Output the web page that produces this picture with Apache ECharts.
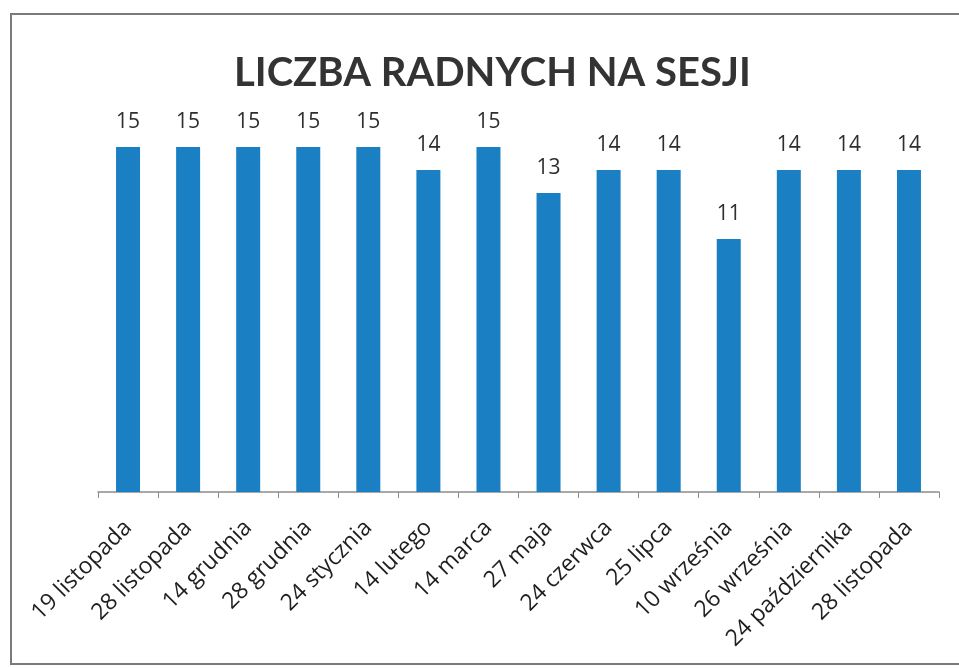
<!DOCTYPE html>
<html>
<head>
<meta charset="utf-8">
<script src="https://cdn.jsdelivr.net/npm/echarts@6/dist/echarts.min.js"></script>
<style>
  body { margin: 0; background: #fff; }
  #wrap { position: relative; width: 959px; height: 668px; overflow: hidden; }
  #frame { position: absolute; left: 10px; top: 13px; width: 1000px; height: 652px; border: 2px solid #7a7a7a; box-sizing: border-box; }
  #main { position: absolute; left: 0; top: 0; width: 959px; height: 668px; }
</style>
</head>
<body>
<div id="wrap">
  <div id="frame"></div>
  <div id="main"></div>
</div>
<script>
// daty sesji
var sesje = ['19 listopada', '28 listopada', '14 grudnia', '28 grudnia', '24 stycznia', '14 lutego', '14 marca',
             '27 maja', '24 czerwca', '25 lipca', '10 września', '26 września', '24 października', '28 listopada'];
// liczba radnych obecnych
var radni = [15, 15, 15, 15, 15, 14, 15, 13, 14, 14, 11, 14, 14, 14];

var chart = echarts.init(document.getElementById('main'));
chart.setOption({
  backgroundColor: 'transparent',
  title: {
    text: 'LICZBA RADNYCH NA SESJI',
    left: 229,
    top: 48,
    textStyle: { fontFamily: 'Lato', fontWeight: 'bold', fontSize: 40, color: '#333' }
  },
  grid: { left: 98, right: 20, top: 78, bottom: 176 },
  xAxis: {
    type: 'category',
    data: sesje,
    axisLine: { lineStyle: { color: '#8c8c8c', width: 1.5 } },
    axisTick: { show: true, length: 6, lineStyle: { color: '#8c8c8c' } },
    axisLabel: {
      rotate: 45,
      interval: 0,
      margin: 32,
      fontFamily: 'Open Sans',
      fontSize: 23,
      color: '#1e1e1e'
    }
  },
  yAxis: {
    type: 'value',
    min: 0,
    max: 18,
    show: false
  },
  series: [{
    type: 'bar',
    data: radni,
    barWidth: 24,
    itemStyle: { color: '#1a80c3' },
    label: {
      show: true,
      position: 'top',
      distance: 14,
      fontFamily: 'Open Sans',
      fontSize: 21,
      color: '#2e2e2e'
    }
  }]
});
</script>
</body>
</html>
